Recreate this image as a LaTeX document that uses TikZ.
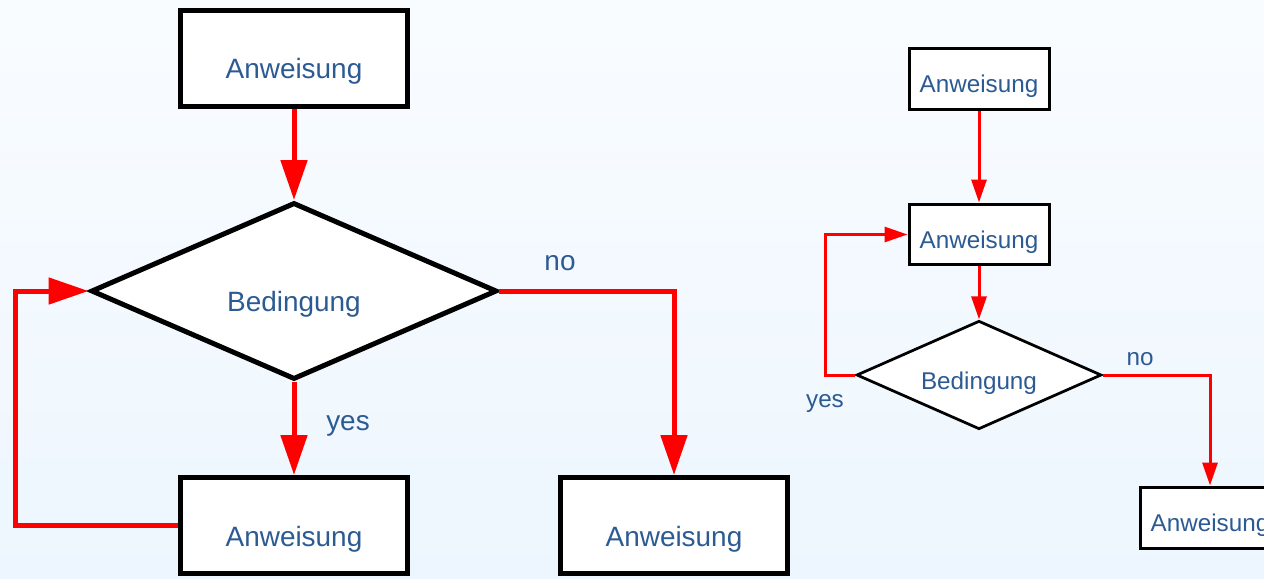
\documentclass[tikz,border=0pt]{standalone}
\usepackage{fontspec}
\setmainfont{Liberation Sans}
\usetikzlibrary{arrows.meta,shapes.geometric,positioning}
\definecolor{txtblue}{RGB}{44,90,146}
\definecolor{bgtop}{RGB}{249,252,255}
\definecolor{bgbot}{RGB}{237,246,254}

\begin{document}
\begin{tikzpicture}[x=0.02cm,y=-0.02cm,
  big/.style={font=\fontsize{15.9}{19}\selectfont,text=txtblue,text height=0.88cm,text depth=0.06cm},
  small/.style={font=\fontsize{13.8}{16}\selectfont,text=txtblue,text height=0.6cm,text depth=0.04cm},
  bigbox/.style={big,draw=black,fill=white,line width=0.1cm,minimum width=4.54cm,minimum height=1.92cm,inner sep=0pt},
  smallbox/.style={small,draw=black,fill=white,line width=0.06cm,minimum width=2.8cm,minimum height=1.22cm,inner sep=0pt},
  bigcond/.style={big,diamond,shape aspect=2.3,draw=black,fill=white,line width=0.1cm,minimum width=8.12cm,minimum height=3.54cm,inner sep=0pt},
  smallcond/.style={small,diamond,shape aspect=2.3,draw=black,fill=white,line width=0.055cm,minimum width=4.9cm,minimum height=2.17cm,inner sep=0pt},
  bigarr/.style={red,line width=0.1cm,-{Triangle[length=0.8cm,width=0.52cm]}},
  smallarr/.style={red,line width=0.06cm,-{Triangle[length=0.46cm,width=0.3cm]}},
  biglbl/.style={font=\fontsize{15.9}{19}\selectfont,text=txtblue,anchor=base,inner sep=0pt},
  smalllbl/.style={font=\fontsize{13.8}{16}\selectfont,text=txtblue,anchor=base,inner sep=0pt}]

% Background
\shade[top color=bgtop,bottom color=bgbot] (0,0) rectangle (1264,578);
\useasboundingbox (0,0) rectangle (1264,578);
\clip (0,0) rectangle (1264,578);

% Left chart
\node[bigbox] (a1) at (294,58.5) {Anweisung};
\node[bigcond] (d1) at (294,291) {Bedingung};
\node[bigbox] (b2) at (294,525.5) {Anweisung};
\node[bigbox] (b3) at (674,525.5) {Anweisung};

\draw[bigarr] (a1) -- (d1);
\draw[bigarr] (d1) -- (b2);
\draw[bigarr] (d1.east) -| (b3.north);
\draw[bigarr] (b2.west) -- ++(-163,0) |- (d1.west);

\node[biglbl] (lno) at (560,270) {no};
\node[biglbl] (lyes) at (348,430) {yes};

% Right chart
\node[smallbox] (r1) at (979,79) {Anweisung};
\node[smallbox] (r2) at (979,234.5) {Anweisung};
\node[smallcond] (rd) at (979,375) {Bedingung};
\node[smallbox] (r3) at (1210,517.5) {Anweisung};

\draw[smallarr] (r1) -- (r2);
\draw[smallarr] (r2) -- (rd);
\draw[smallarr] (rd.west) -- ++(-30,0) |- (r2.west);
\draw[smallarr] (rd.east) -| (r3.north);

\node[smalllbl] (rno) at (1140,365) {no};
\node[smalllbl] (ryes) at (825,407) {yes};

\end{tikzpicture}
\end{document}
